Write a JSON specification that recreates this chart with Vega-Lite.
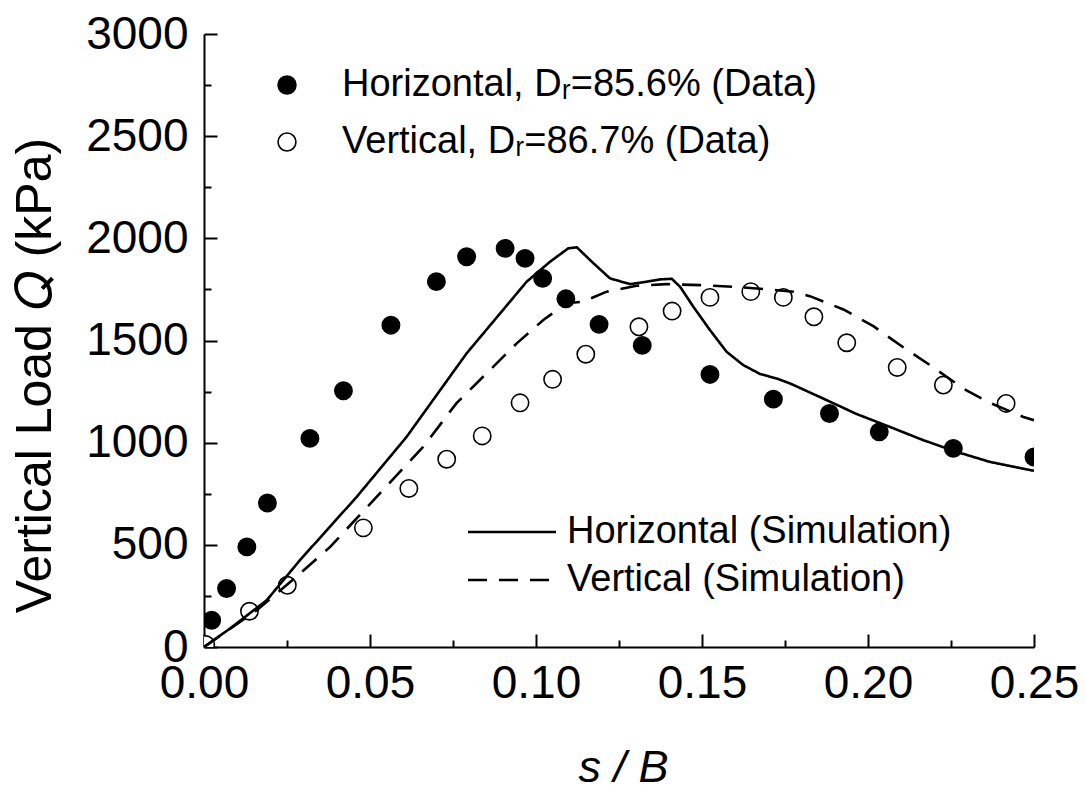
{
  "$schema": "https://vega.github.io/schema/vega-lite/v6.json",
  "width": 830,
  "height": 613,
  "autosize": {"type": "none"},
  "padding": {"left": 204, "top": 34, "right": 52, "bottom": 138},
  "background": "white",
  "config": {
    "view": {"stroke": null},
    "font": "Liberation Sans",
    "axis": {
      "domainColor": "black",
      "domainWidth": 2,
      "tickColor": "black",
      "tickWidth": 2,
      "labelColor": "black",
      "titleColor": "black",
      "labelFont": "Liberation Sans",
      "titleFont": "Liberation Sans",
      "titleFontWeight": "normal",
      "grid": false,
      "labelOverlap": false,
      "labelFlush": false,
      "labelBound": false
    },
    "legend": {
      "labelFont": "Liberation Sans",
      "labelColor": "black",
      "labelLimit": 0
    }
  },
  "datasets": {
    "measured": [
      {"series": "Horizontal, Dᵣ=85.6% (Data)", "sB": 0.0023, "Q": 131},
      {"series": "Horizontal, Dᵣ=85.6% (Data)", "sB": 0.0068, "Q": 286},
      {"series": "Horizontal, Dᵣ=85.6% (Data)", "sB": 0.0129, "Q": 490},
      {"series": "Horizontal, Dᵣ=85.6% (Data)", "sB": 0.0191, "Q": 705},
      {"series": "Horizontal, Dᵣ=85.6% (Data)", "sB": 0.0319, "Q": 1021},
      {"series": "Horizontal, Dᵣ=85.6% (Data)", "sB": 0.042, "Q": 1254},
      {"series": "Horizontal, Dᵣ=85.6% (Data)", "sB": 0.0563, "Q": 1575},
      {"series": "Horizontal, Dᵣ=85.6% (Data)", "sB": 0.070, "Q": 1788},
      {"series": "Horizontal, Dᵣ=85.6% (Data)", "sB": 0.0791, "Q": 1910},
      {"series": "Horizontal, Dᵣ=85.6% (Data)", "sB": 0.0907, "Q": 1951},
      {"series": "Horizontal, Dᵣ=85.6% (Data)", "sB": 0.0967, "Q": 1902},
      {"series": "Horizontal, Dᵣ=85.6% (Data)", "sB": 0.102, "Q": 1804},
      {"series": "Horizontal, Dᵣ=85.6% (Data)", "sB": 0.109, "Q": 1704},
      {"series": "Horizontal, Dᵣ=85.6% (Data)", "sB": 0.119, "Q": 1579},
      {"series": "Horizontal, Dᵣ=85.6% (Data)", "sB": 0.132, "Q": 1476},
      {"series": "Horizontal, Dᵣ=85.6% (Data)", "sB": 0.1524, "Q": 1334},
      {"series": "Horizontal, Dᵣ=85.6% (Data)", "sB": 0.1715, "Q": 1213},
      {"series": "Horizontal, Dᵣ=85.6% (Data)", "sB": 0.1884, "Q": 1143},
      {"series": "Horizontal, Dᵣ=85.6% (Data)", "sB": 0.2034, "Q": 1053},
      {"series": "Horizontal, Dᵣ=85.6% (Data)", "sB": 0.2257, "Q": 972},
      {"series": "Horizontal, Dᵣ=85.6% (Data)", "sB": 0.25, "Q": 930},
      {"series": "Vertical, Dᵣ=86.7% (Data)", "sB": 0.0005, "Q": 12},
      {"series": "Vertical, Dᵣ=86.7% (Data)", "sB": 0.0137, "Q": 175},
      {"series": "Vertical, Dᵣ=86.7% (Data)", "sB": 0.0251, "Q": 302},
      {"series": "Vertical, Dᵣ=86.7% (Data)", "sB": 0.048, "Q": 583},
      {"series": "Vertical, Dᵣ=86.7% (Data)", "sB": 0.0617, "Q": 776},
      {"series": "Vertical, Dᵣ=86.7% (Data)", "sB": 0.0731, "Q": 919},
      {"series": "Vertical, Dᵣ=86.7% (Data)", "sB": 0.0838, "Q": 1033},
      {"series": "Vertical, Dᵣ=86.7% (Data)", "sB": 0.0952, "Q": 1195},
      {"series": "Vertical, Dᵣ=86.7% (Data)", "sB": 0.105, "Q": 1310},
      {"series": "Vertical, Dᵣ=86.7% (Data)", "sB": 0.115, "Q": 1433},
      {"series": "Vertical, Dᵣ=86.7% (Data)", "sB": 0.131, "Q": 1567},
      {"series": "Vertical, Dᵣ=86.7% (Data)", "sB": 0.141, "Q": 1644},
      {"series": "Vertical, Dᵣ=86.7% (Data)", "sB": 0.1524, "Q": 1711},
      {"series": "Vertical, Dᵣ=86.7% (Data)", "sB": 0.1647, "Q": 1739},
      {"series": "Vertical, Dᵣ=86.7% (Data)", "sB": 0.1745, "Q": 1711},
      {"series": "Vertical, Dᵣ=86.7% (Data)", "sB": 0.1837, "Q": 1616},
      {"series": "Vertical, Dᵣ=86.7% (Data)", "sB": 0.1936, "Q": 1489},
      {"series": "Vertical, Dᵣ=86.7% (Data)", "sB": 0.2088, "Q": 1368},
      {"series": "Vertical, Dᵣ=86.7% (Data)", "sB": 0.2227, "Q": 1282},
      {"series": "Vertical, Dᵣ=86.7% (Data)", "sB": 0.2416, "Q": 1192}
    ],
    "simulated": [
      {"series": "Horizontal (Simulation)", "sB": 0, "Q": 0},
      {"series": "Horizontal (Simulation)", "sB": 0.0078, "Q": 90},
      {"series": "Horizontal (Simulation)", "sB": 0.0189, "Q": 229},
      {"series": "Horizontal (Simulation)", "sB": 0.0289, "Q": 425},
      {"series": "Horizontal (Simulation)", "sB": 0.046, "Q": 735},
      {"series": "Horizontal (Simulation)", "sB": 0.061, "Q": 1028},
      {"series": "Horizontal (Simulation)", "sB": 0.0791, "Q": 1437},
      {"series": "Horizontal (Simulation)", "sB": 0.0972, "Q": 1788},
      {"series": "Horizontal (Simulation)", "sB": 0.1042, "Q": 1885},
      {"series": "Horizontal (Simulation)", "sB": 0.1097, "Q": 1951},
      {"series": "Horizontal (Simulation)", "sB": 0.1123, "Q": 1956},
      {"series": "Horizontal (Simulation)", "sB": 0.1173, "Q": 1878},
      {"series": "Horizontal (Simulation)", "sB": 0.1223, "Q": 1804},
      {"series": "Horizontal (Simulation)", "sB": 0.1283, "Q": 1776},
      {"series": "Horizontal (Simulation)", "sB": 0.1323, "Q": 1785},
      {"series": "Horizontal (Simulation)", "sB": 0.1373, "Q": 1799},
      {"series": "Horizontal (Simulation)", "sB": 0.1409, "Q": 1802},
      {"series": "Horizontal (Simulation)", "sB": 0.1434, "Q": 1763},
      {"series": "Horizontal (Simulation)", "sB": 0.1474, "Q": 1665},
      {"series": "Horizontal (Simulation)", "sB": 0.1524, "Q": 1551},
      {"series": "Horizontal (Simulation)", "sB": 0.1574, "Q": 1445},
      {"series": "Horizontal (Simulation)", "sB": 0.1624, "Q": 1380},
      {"series": "Horizontal (Simulation)", "sB": 0.1675, "Q": 1336},
      {"series": "Horizontal (Simulation)", "sB": 0.1725, "Q": 1314},
      {"series": "Horizontal (Simulation)", "sB": 0.1765, "Q": 1290},
      {"series": "Horizontal (Simulation)", "sB": 0.1865, "Q": 1216},
      {"series": "Horizontal (Simulation)", "sB": 0.1966, "Q": 1140},
      {"series": "Horizontal (Simulation)", "sB": 0.2066, "Q": 1077},
      {"series": "Horizontal (Simulation)", "sB": 0.2167, "Q": 1012},
      {"series": "Horizontal (Simulation)", "sB": 0.2267, "Q": 955},
      {"series": "Horizontal (Simulation)", "sB": 0.2367, "Q": 906},
      {"series": "Horizontal (Simulation)", "sB": 0.25, "Q": 862},
      {"series": "Vertical (Simulation)", "sB": 0, "Q": 0},
      {"series": "Vertical (Simulation)", "sB": 0.0159, "Q": 180},
      {"series": "Vertical (Simulation)", "sB": 0.0289, "Q": 359},
      {"series": "Vertical (Simulation)", "sB": 0.038, "Q": 490},
      {"series": "Vertical (Simulation)", "sB": 0.052, "Q": 735},
      {"series": "Vertical (Simulation)", "sB": 0.066, "Q": 979},
      {"series": "Vertical (Simulation)", "sB": 0.076, "Q": 1192},
      {"series": "Vertical (Simulation)", "sB": 0.0861, "Q": 1355},
      {"series": "Vertical (Simulation)", "sB": 0.0942, "Q": 1486},
      {"series": "Vertical (Simulation)", "sB": 0.1022, "Q": 1600},
      {"series": "Vertical (Simulation)", "sB": 0.1092, "Q": 1682},
      {"series": "Vertical (Simulation)", "sB": 0.1142, "Q": 1690},
      {"series": "Vertical (Simulation)", "sB": 0.1213, "Q": 1739},
      {"series": "Vertical (Simulation)", "sB": 0.1303, "Q": 1768},
      {"series": "Vertical (Simulation)", "sB": 0.1393, "Q": 1776},
      {"series": "Vertical (Simulation)", "sB": 0.1494, "Q": 1771},
      {"series": "Vertical (Simulation)", "sB": 0.1594, "Q": 1763},
      {"series": "Vertical (Simulation)", "sB": 0.1695, "Q": 1751},
      {"series": "Vertical (Simulation)", "sB": 0.1775, "Q": 1739},
      {"series": "Vertical (Simulation)", "sB": 0.1825, "Q": 1717},
      {"series": "Vertical (Simulation)", "sB": 0.1926, "Q": 1652},
      {"series": "Vertical (Simulation)", "sB": 0.2016, "Q": 1570},
      {"series": "Vertical (Simulation)", "sB": 0.2107, "Q": 1466},
      {"series": "Vertical (Simulation)", "sB": 0.2197, "Q": 1368},
      {"series": "Vertical (Simulation)", "sB": 0.2287, "Q": 1265},
      {"series": "Vertical (Simulation)", "sB": 0.2367, "Q": 1195},
      {"series": "Vertical (Simulation)", "sB": 0.2468, "Q": 1126},
      {"series": "Vertical (Simulation)", "sB": 0.25, "Q": 1110}
    ]
  },
  "layer": [
    {
      "data": {"name": "measured"},
      "mark": {"type": "point", "shape": "circle", "filled": true, "stroke": "black", "strokeWidth": 1.6, "size": 300, "opacity": 1, "clip": true},
      "encoding": {
        "x": {
          "field": "sB", "type": "quantitative",
          "scale": {"domain": [0, 0.25], "nice": false, "zero": false},
          "axis": {"orient": "bottom", "values": [0.025, 0.075, 0.125, 0.175, 0.225], "tickSize": -7, "labels": false, "domain": false, "title": null}
        },
        "y": {
          "field": "Q", "type": "quantitative",
          "scale": {"domain": [0, 3000], "nice": false},
          "axis": {"orient": "left", "values": [250, 750, 1250, 1750, 2250, 2750], "tickSize": -7, "labels": false, "domain": false, "title": null}
        },
        "fill": {
          "field": "series", "type": "nominal",
          "scale": {"domain": ["Horizontal, Dᵣ=85.6% (Data)", "Vertical, Dᵣ=86.7% (Data)"], "range": ["black", "white"]},
          "legend": {
            "orient": "none", "legendX": 64, "legendY": 32, "title": null, "padding": 0,
            "labelFontSize": 38, "symbolType": "circle", "symbolSize": 320,
            "symbolStrokeColor": "black", "symbolStrokeWidth": 1.6, "symbolOpacity": 1,
            "labelOffset": 36, "rowPadding": 19
          }
        }
      }
    },
    {
      "data": {"name": "simulated"},
      "mark": {"type": "line", "color": "black", "strokeWidth": 2.6, "clip": true},
      "encoding": {
        "x": {
          "field": "sB", "type": "quantitative",
          "axis": {
            "orient": "bottom",
            "values": [0, 0.05, 0.1, 0.15, 0.2, 0.25], "format": ".2f", "tickSize": -13,
            "labelFontSize": 46, "labelPadding": 27,
            "title": "s / B", "titleFontSize": 45, "titleFontStyle": "italic",
            "titleBaseline": "alphabetic", "titleX": 419, "titleY": 134, "titleAlign": "center"
          }
        },
        "y": {
          "field": "Q", "type": "quantitative",
          "axis": {
            "orient": "left",
            "values": [0, 500, 1000, 1500, 2000, 2500, 3000], "format": "d", "tickSize": -13,
            "labelFontSize": 46, "labelPadding": 29,
            "title": "Vertical Load  𝑄  (kPa)", "titleFontSize": 50,
            "titleBaseline": "alphabetic", "titleX": -154, "titleY": 341, "titleAlign": "center", "titleAngle": 270
          }
        },
        "strokeDash": {
          "field": "series", "type": "nominal",
          "scale": {"domain": ["Horizontal (Simulation)", "Vertical (Simulation)"], "range": [[1, 0], [19, 12]]},
          "legend": {
            "orient": "none", "legendX": 289, "legendY": 479, "title": null, "padding": 0,
            "labelFontSize": 38, "symbolType": "M-4,0H4", "symbolSize": 484,
            "symbolStrokeColor": "black", "symbolStrokeWidth": 2.5,
            "labelOffset": 36, "rowPadding": 10,
            "encode": {
              "symbols": {
                "update": {
                  "strokeDash": [
                    {"test": "datum.value === 'Vertical (Simulation)'", "value": [14, 14, 14, 14, 14, 30]},
                    {"value": [1, 0]}
                  ]
                }
              }
            }
          }
        }
      }
    }
  ],
  "resolve": {"axis": {"x": "independent", "y": "independent"}}
}
